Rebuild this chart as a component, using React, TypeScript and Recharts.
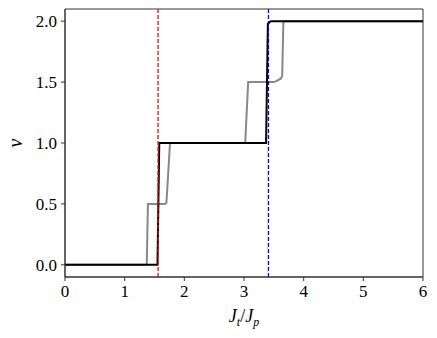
import React from "react";
import {
  LineChart,
  Line,
  XAxis,
  YAxis,
  ReferenceLine,
  ReferenceArea,
} from "recharts";

// gray curve (finite-size run)
const grayX = [0, 1.37, 1.39, 1.68, 1.7, 1.76, 3.02, 3.07, 3.5, 3.55, 3.62, 3.64, 3.66, 6];
const grayY = [0, 0, 0.5, 0.5, 0.51, 1.0, 1.0, 1.5, 1.5, 1.51, 1.53, 1.55, 2.0, 2.0];

// black curve
const blackX = [0, 1.55, 1.58, 3.37, 3.4, 3.45, 6];
const blackY = [0, 0, 1.0, 1.0, 1.98, 2.0, 2.0];

// dashed markers
const redX = 1.56;
const blueX = 3.41;

const xTicks = [0, 1, 2, 3, 4, 5, 6];
const yTicks = [0, 0.5, 1.0, 1.5, 2.0];

const grayData = grayX.map((x, i) => ({ x, y: grayY[i] }));
const blackData = blackX.map((x, i) => ({ x, y: blackY[i] }));

const FONT = "Liberation Serif";

function XTick({ x, y, payload }: any) {
  return (
    <text x={x} y={y + 14} textAnchor="middle" fontFamily={FONT} fontSize={17} fill="#000">
      {String(payload.value)}
    </text>
  );
}

function YTick({ x, y, payload }: any) {
  return (
    <text x={x - 2} y={y + 6} textAnchor="end" fontFamily={FONT} fontSize={17} fill="#000">
      {payload.value.toFixed(1)}
    </text>
  );
}

function XLabel({ viewBox }: any) {
  const cx = viewBox.x + viewBox.width / 2;
  return (
    <text x={cx} y={viewBox.y + 45} textAnchor="middle" fontFamily={FONT} fontSize={18} fill="#000">
      <tspan fontStyle="italic">J</tspan>
      <tspan fontStyle="italic" fontSize={12} dy={4}>t</tspan>
      <tspan dy={-4}>/</tspan>
      <tspan fontStyle="italic">J</tspan>
      <tspan fontStyle="italic" fontSize={12} dy={4}>p</tspan>
    </text>
  );
}

function YLabel({ viewBox }: any) {
  const cy = viewBox.y + viewBox.height / 2;
  const x = 22;
  return (
    <text
      x={x}
      y={cy}
      textAnchor="middle"
      fontFamily={FONT}
      fontStyle="italic"
      fontSize={20}
      fill="#000"
      transform={`rotate(-90, ${x}, ${cy})`}
    >
      v
    </text>
  );
}

export default function App() {
  return (
    <div>
      <style>{"body { margin: 0; background: #fff; }"}</style>
      <LineChart width={437} height={338} margin={{ top: 9, right: 14, left: 10, bottom: 31 }}>
        <XAxis
          dataKey="x"
          type="number"
          domain={[0, 6]}
          ticks={xTicks}
          allowDataOverflow
          tick={<XTick />}
          tickSize={4}
          height={30}
          stroke="#333"
          label={<XLabel />}
        />
        <YAxis
          dataKey="y"
          type="number"
          domain={[-0.1, 2.1]}
          ticks={yTicks}
          allowDataOverflow
          tick={<YTick />}
          tickSize={4}
          width={55}
          stroke="#333"
          label={<YLabel />}
        />
        <ReferenceArea x1={0} x2={6} y1={-0.1} y2={2.1} fill="none" fillOpacity={0} stroke="#333" strokeWidth={1} ifOverflow="visible" />
        <Line
          data={grayData}
          dataKey="y"
          type="linear"
          stroke="#888888"
          strokeWidth={2}
          dot={false}
          isAnimationActive={false}
        />
        <Line
          data={blackData}
          dataKey="y"
          type="linear"
          stroke="#000000"
          strokeWidth={2}
          dot={false}
          isAnimationActive={false}
        />
        <ReferenceLine x={redX} stroke="#ff0000" strokeWidth={1.3} strokeDasharray="4 2" />
        <ReferenceLine x={blueX} stroke="#0000ff" strokeWidth={1.3} strokeDasharray="4 2" />
      </LineChart>
    </div>
  );
}
